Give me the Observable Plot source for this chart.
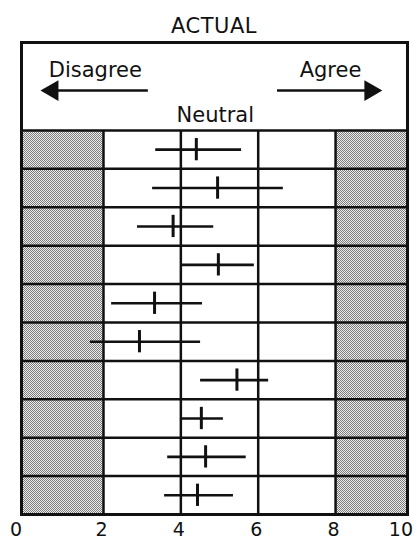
<!DOCTYPE html>
<html>
<head>
<meta charset="utf-8">
<script src="https://cdn.jsdelivr.net/npm/d3@7"></script>
<script src="https://cdn.jsdelivr.net/npm/@observablehq/plot@0.6"></script>
<style>
  html, body { margin: 0; padding: 0; background: #fff; }
  #wrap { width: 417px; height: 540px; position: relative; overflow: hidden; font-family: "DejaVu Sans", sans-serif; }
  #title { margin-left: 21px; width: 386px; height: 40px; text-align: center; font-size: 21px; line-height: 21px; box-sizing: border-box; color: #111; }
  #title span { display: inline-block; padding-top: 16px; letter-spacing: 0.5px; }
</style>
</head>
<body>
<div id="wrap">
  <div id="title"><span>ACTUAL</span></div>
  <div id="chart"></div>
</div>
<script>
// ---- data ----
const lows  = [3.35, 3.27, 2.88, 4.04, 2.21, 1.66, 4.51, 3.99, 3.66, 3.58];
const means = [4.40, 4.95, 3.80, 4.97, 3.32, 2.93, 5.45, 4.53, 4.64, 4.43];
const highs = [5.57, 6.65, 4.85, 5.90, 4.56, 4.51, 6.27, 5.10, 5.69, 5.36];
const xTickValues = [0, 2, 4, 6, 8, 10];
const gridValues = [2, 4, 6, 8];
const neutralLow = 2, neutralHigh = 8;
const headerLabels = ["Disagree", "Agree", "Neutral"];

// ---- layout ----
const xDomain = [-0.12, 9.86];
const headerRows = 2.29;
const rows = means.map((m, i) => ({row: i, low: lows[i], mean: m, high: highs[i]}));
const nRows = rows.length;
const zones = [
  {x1: xDomain[0], x2: neutralLow},
  {x1: neutralHigh, x2: xDomain[1]}
];
const boundaries = d3.range(0, nRows);

const headerText = [
  {label: headerLabels[0], x: 1.79, y: -1.38},
  {label: headerLabels[1], x: 7.87, y: -1.38},
  {label: headerLabels[2], x: 4.89, y: -0.22}
];
const arrowLines = [{x1: 0.75, x2: 3.16, y: -1.04}, {x1: 6.5, x2: 8.85, y: -1.04}];
const arrowHeads = [{x: 0.68, y: -1.04, angle: -90}, {x: 8.90, y: -1.04, angle: 90}];

const plot = Plot.plot({
  width: 417,
  height: 500,
  marginTop: 2,
  marginBottom: 26,
  marginLeft: 21,
  marginRight: 10,
  style: {fontFamily: "DejaVu Sans, sans-serif", background: "#fff", color: "#111"},
  x: {domain: xDomain, axis: null},
  y: {domain: [-headerRows, nRows], reverse: true, axis: null},
  r: {type: "identity"},
  marks: [
    Plot.rect(zones, {x1: "x1", x2: "x2", y1: 0, y2: nRows, fill: "url(#halftone)"}),
    Plot.ruleY(boundaries, {stroke: "#111", strokeWidth: 2.5}),
    Plot.ruleX(gridValues, {y1: 0, y2: nRows, stroke: "#111", strokeWidth: 2.5}),
    Plot.ruleY(rows, {y: d => d.row + 0.5, x1: "low", x2: "high", stroke: "#111", strokeWidth: 2.6}),
    Plot.ruleX(rows, {x: "mean", y1: d => d.row + 0.21, y2: d => d.row + 0.79, stroke: "#111", strokeWidth: 3}),
    Plot.frame({stroke: "#111", strokeWidth: 3}),
    Plot.text(headerText, {x: "x", y: "y", text: "label", fontSize: 21, lineAnchor: "bottom", fill: "#111"}),
    Plot.ruleY(arrowLines, {y: "y", x1: "x1", x2: "x2", stroke: "#111", strokeWidth: 2.5}),
    Plot.dot(arrowHeads, {x: "x", y: "y", symbol: "triangle", r: 7.7, rotate: "angle", fill: "#111", stroke: "none"}),
    Plot.axisX([2, 4, 6, 8], {tickSize: 0, tickPadding: 8, fontSize: 19, dx: -2}),
    Plot.axisX([xTickValues[0]], {tickSize: 0, tickPadding: 8, fontSize: 19, dx: -10}),
    Plot.axisX([xTickValues[5]], {tickSize: 0, tickPadding: 8, fontSize: 19, dx: -12})
  ]
});

// halftone pattern for the shaded outer zones
const ns = "http://www.w3.org/2000/svg";
const svg = plot.tagName.toLowerCase() === "svg" ? plot : plot.querySelector("svg");
const defs = document.createElementNS(ns, "defs");
const pat = document.createElementNS(ns, "pattern");
pat.setAttribute("id", "halftone");
pat.setAttribute("width", 2);
pat.setAttribute("height", 2);
pat.setAttribute("patternUnits", "userSpaceOnUse");
const bg = document.createElementNS(ns, "rect");
bg.setAttribute("width", 2); bg.setAttribute("height", 2); bg.setAttribute("fill", "#ededed");
pat.appendChild(bg);
[[0, 0], [1, 1]].forEach(([a, b]) => {
  const r = document.createElementNS(ns, "rect");
  r.setAttribute("x", a); r.setAttribute("y", b);
  r.setAttribute("width", 1); r.setAttribute("height", 1);
  r.setAttribute("fill", "#7c7c7c");
  pat.appendChild(r);
});
defs.appendChild(pat);
svg.insertBefore(defs, svg.firstChild);

document.getElementById("chart").appendChild(plot);
</script>
</body>
</html>
